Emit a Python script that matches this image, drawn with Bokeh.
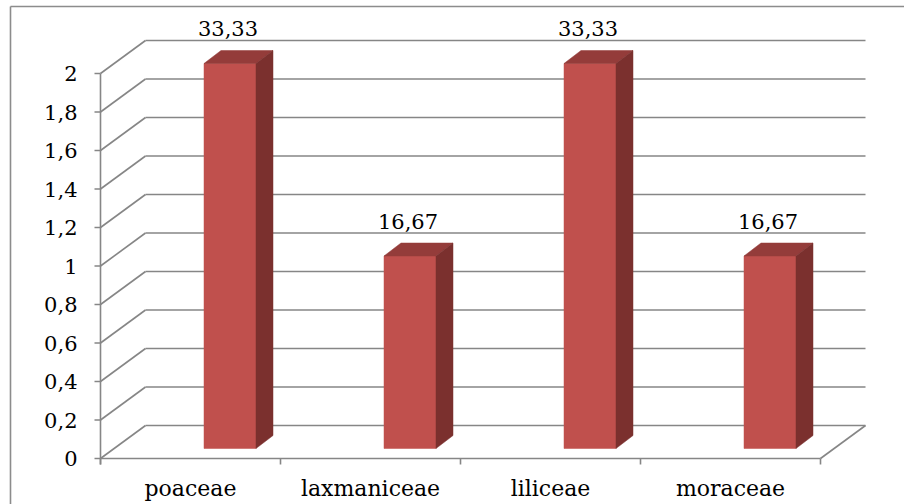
from bokeh.plotting import figure
from bokeh.models import Range1d, ColumnDataSource
from bokeh.core.properties import value
from bokeh.embed import file_html
from bokeh.resources import INLINE

# ---- data ----
categories = ["poaceae", "laxmaniceae", "liliceae", "moraceae"]
counts = [2, 1, 2, 1]
percent_labels = ["33,33", "16,67", "33,33", "16,67"]
y_ticks = [0, 0.2, 0.4, 0.6, 0.8, 1.0, 1.2, 1.4, 1.6, 1.8, 2.0]
y_tick_labels = ["0", "0,2", "0,4", "0,6", "0,8", "1", "1,2", "1,4", "1,6", "1,8", "2"]

# ---- layout constants (pixel scale of the data space) ----
W, H = 904, 504
X0PX, PXX = 100, 180.0      # x=0 at px 100, one category = 180 px
Y0PX, PXY = 458, 192.5      # y=0 at px 458, one unit = 192.5 px
def px_x(n): return n / PXX
def px_y(n): return n / PXY

NCAT = len(categories)
DX, DY = px_x(45), px_y(33)          # depth of the 3D box
D0 = px_y(10)                        # bar front plane lift
BOFF, BW = px_x(39.5), px_x(52)      # bar offset from category centre, width
BDX, BDY = px_x(17), px_y(13)        # bar depth

GRID = "#868686"
FONT = value("DejaVu Serif")

p = figure(width=W, height=H, output_backend="svg", toolbar_location=None,
           x_range=Range1d(-X0PX / PXX, (W - X0PX) / PXX),
           y_range=Range1d(-(H - Y0PX) / PXY, Y0PX / PXY),
           x_axis_location=None, y_axis_location=None,
           min_border=0, outline_line_color=None)
p.grid.visible = False
p.background_fill_color = "white"
p.border_fill_color = "white"

# back wall gridlines and left wall diagonals
xs, ys = [], []
for t in y_ticks:
    xs.append([DX, NCAT + DX]); ys.append([t + DY, t + DY])
    xs.append([0, DX]); ys.append([t, t + DY])
# floor front edge and right diagonal
xs.append([0, NCAT]); ys.append([0, 0])
xs.append([NCAT, NCAT + DX]); ys.append([0, DY])
p.multi_line(xs, ys, line_color=GRID, line_width=1.6)

# front y axis line + ticks
axs, ays = [[0, 0]], [[-px_y(6), y_ticks[-1]]]
for t in y_ticks:
    axs.append([-px_x(6), 0]); ays.append([t, t])
for i in range(NCAT + 1):
    axs.append([i, i]); ays.append([0, -px_y(6)])
p.multi_line(axs, ays, line_color=GRID, line_width=1.6)

# bars
centers = [i + 0.5 + BOFF for i in range(NCAT)]
lefts = [c - BW / 2 for c in centers]
rights = [c + BW / 2 for c in centers]
tops = [v + D0 for v in counts]
p.quad(left=lefts, right=rights, bottom=[D0] * NCAT, top=tops,
       fill_color="#C0504D", line_color="#C0504D", line_width=0.5)
top_xs = [[l, r, r + BDX, l + BDX] for l, r in zip(lefts, rights)]
top_ys = [[t, t, t + BDY, t + BDY] for t in tops]
p.patches(top_xs, top_ys, fill_color="#943C3A", line_color="#943C3A", line_width=0.5)
side_xs = [[r, r + BDX, r + BDX, r] for r in rights]
side_ys = [[D0, D0 + BDY, t + BDY, t] for t in tops]
p.patches(side_xs, side_ys, fill_color="#7B302E", line_color="#7B302E", line_width=0.5)

# data labels
lab_src = ColumnDataSource(dict(x=[c - px_x(2) for c in centers],
                                y=[t + BDY + px_y(22) for t in tops],
                                text=percent_labels))
p.text(x="x", y="y", text="text", source=lab_src, text_font=FONT,
       text_font_size="21px", text_align="center", text_baseline="middle",
       text_color="black")

# y tick labels
p.text(x=[-px_x(23)] * len(y_ticks), y=y_ticks, text=y_tick_labels,
       text_font=FONT, text_font_size="21px", text_align="right",
       text_baseline="middle", text_color="black")

# category labels
p.text(x=[i + 0.5 for i in range(NCAT)], y=[-px_y(30)] * NCAT, text=categories,
       text_font=FONT, text_font_size="22px", text_align="center",
       text_baseline="middle", text_color="black")

# chart area border (left and top)
bx = -px_x(X0PX - 10)
by = px_y(Y0PX - 6)
p.multi_line([[bx, bx], [bx, (W - X0PX) / PXX]],
             [[-(H - Y0PX) / PXY, by], [by, by]],
             line_color="#8C8C8C", line_width=1.6)

open("out.html", "w").write(file_html(p, INLINE))
